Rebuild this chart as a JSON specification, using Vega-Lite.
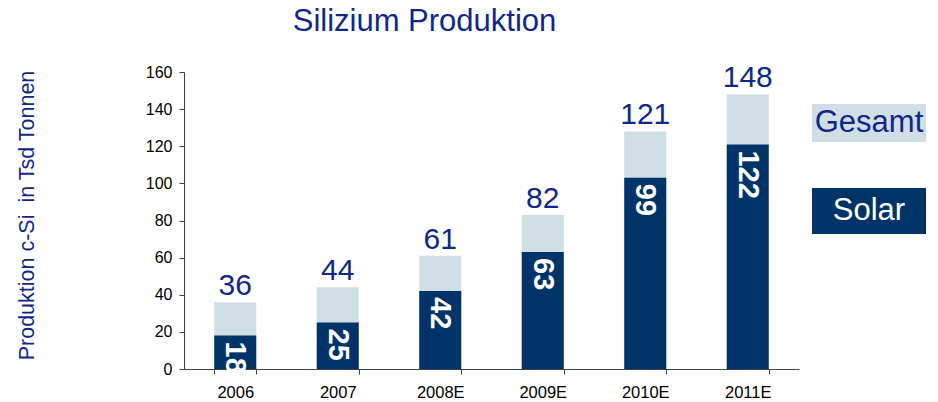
{
  "$schema": "https://vega.github.io/schema/vega-lite/v6.json",
  "autosize": "none",
  "width": 615,
  "height": 297,
  "padding": {"left": 184, "top": 72, "right": 139, "bottom": 33},
  "background": "white",
  "config": {
    "view": {"stroke": null},
    "font": "Liberation Sans"
  },
  "title": {
    "text": "Silizium Produktion",
    "fontSize": 31,
    "fontWeight": "normal",
    "font": "Liberation Sans",
    "color": "#10278a",
    "anchor": "middle",
    "frame": "group",
    "dx": -67,
    "baseline": "alphabetic",
    "offset": 1
  },
  "data": {
    "values": [
      {"year": "2006", "series": "Gesamt", "value": 36, "label": "36"},
      {"year": "2007", "series": "Gesamt", "value": 44, "label": "44"},
      {"year": "2008E", "series": "Gesamt", "value": 61, "label": "61"},
      {"year": "2009E", "series": "Gesamt", "value": 83, "label": "82"},
      {"year": "2010E", "series": "Gesamt", "value": 128, "label": "121"},
      {"year": "2011E", "series": "Gesamt", "value": 148, "label": "148"},
      {"year": "2006", "series": "Solar", "value": 18, "label": "18"},
      {"year": "2007", "series": "Solar", "value": 25, "label": "25"},
      {"year": "2008E", "series": "Solar", "value": 42, "label": "42"},
      {"year": "2009E", "series": "Solar", "value": 63, "label": "63"},
      {"year": "2010E", "series": "Solar", "value": 103, "label": "99"},
      {"year": "2011E", "series": "Solar", "value": 121, "label": "122"}
    ]
  },
  "encoding": {
    "x": {
      "field": "year",
      "type": "nominal",
      "sort": null,
      "scale": {"paddingInner": 0.59, "paddingOuter": 0.295},
      "axis": {
        "title": null,
        "labelAngle": 0,
        "labelFontSize": 16.5,
        "labelColor": "#000000",
        "labelFont": "Liberation Sans",
        "labelPadding": 10,
        "tickBand": "extent",
        "tickSize": 5,
        "tickColor": "#404040",
        "domainColor": "#404040",
        "grid": false
      }
    },
    "y": {
      "field": "value",
      "type": "quantitative",
      "stack": null,
      "scale": {"domain": [0, 160], "nice": false},
      "axis": {
        "title": "Produktion c-Si\u00a0 in Tsd Tonnen",
        "titleFontSize": 21.5,
        "titleFontWeight": "normal",
        "titleColor": "#10278a",
        "titleFont": "Liberation Sans",
        "titleAngle": -90,
        "titleX": -157,
        "titleY": 143,
        "titleBaseline": "middle",
        "titleAlign": "center",
        "values": [0, 20, 40, 60, 80, 100, 120, 140, 160],
        "labelFontSize": 16,
        "labelColor": "#000000",
        "labelFont": "Liberation Sans",
        "labelPadding": 7,
        "tickSize": 5,
        "tickColor": "#404040",
        "domainColor": "#404040",
        "grid": false
      }
    }
  },
  "layer": [
    {
      "mark": {"type": "bar"},
      "encoding": {
        "color": {
          "field": "series",
          "type": "nominal",
          "scale": {"domain": ["Gesamt", "Solar"], "range": ["#d0dee6", "#003469"]},
          "legend": {
            "title": null,
            "orient": "none",
            "legendX": 647,
            "legendY": 13,
            "padding": 0,
            "symbolType": "M-1.5,-0.5H1.5V0.5H-1.5Z",
            "symbolSize": 5776,
            "symbolStrokeWidth": 0,
            "symbolOpacity": 1,
            "labelFontSize": 31,
            "labelFont": "Liberation Sans",
            "labelAlign": "center",
            "labelOffset": -38,
            "labelLimit": 300,
            "rowPadding": 31,
            "encode": {
              "symbols": {
                "update": {
                  "shape": {"signal": "datum.label === 'Solar' ? 'M-1.5,-0.605H1.5V0.605H-1.5Z' : 'M-1.5,-0.5H1.5V0.5H-1.5Z'"}
                }
              },
              "labels": {
                "update": {
                  "fill": {"signal": "datum.label === 'Solar' ? '#ffffff' : '#10278a'"}
                }
              }
            }
          }
        }
      }
    },
    {
      "transform": [{"filter": "datum.series === 'Gesamt'"}],
      "mark": {
        "type": "text",
        "fontSize": 30,
        "font": "Liberation Sans",
        "color": "#10278a",
        "baseline": "alphabetic",
        "dy": -7
      },
      "encoding": {"text": {"field": "label"}}
    },
    {
      "transform": [{"filter": "datum.series === 'Solar'"}],
      "mark": {
        "type": "text",
        "fontSize": 29,
        "fontWeight": "bold",
        "font": "Liberation Sans",
        "color": "#ffffff",
        "angle": 90,
        "align": "left",
        "baseline": "middle",
        "dx": 6
      },
      "encoding": {"text": {"field": "label"}}
    }
  ]
}
